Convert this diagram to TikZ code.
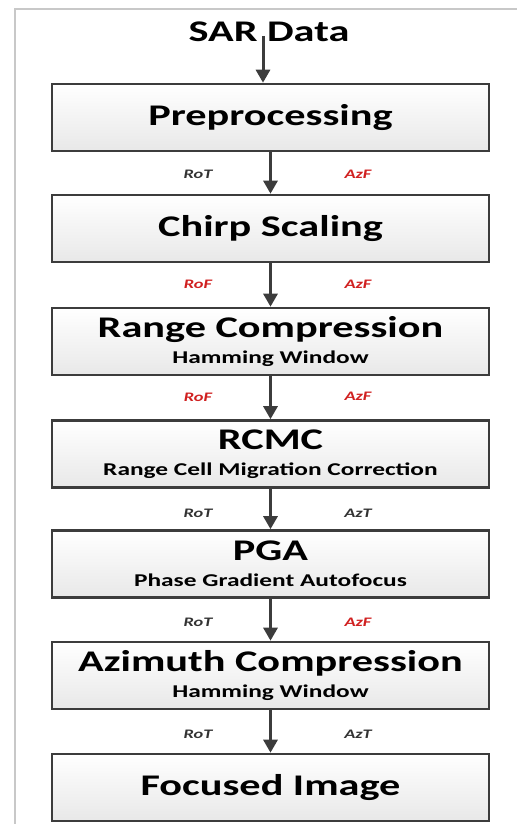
\documentclass[tikz,border=0pt]{standalone}
\usepackage{fontspec}
\usetikzlibrary{arrows.meta}
\newfontfamily\flowfont{Carlito}[FakeStretch=1.41]
\definecolor{edgegray}{HTML}{3C3C3C}
\definecolor{framegray}{HTML}{C8C8C8}
\definecolor{domred}{HTML}{D02020}
\newcommand{\titlefont}{\flowfont\bfseries\fontsize{30}{32}\selectfont}
\newcommand{\subfont}{\flowfont\bfseries\fontsize{18}{20}\selectfont}
\newcommand{\tagfont}{\flowfont\bfseries\itshape\fontsize{13}{14}\selectfont}
\begin{document}
\begin{tikzpicture}[x=1pt,y=-1pt,
  stagebox/.style={draw=edgegray, line width=2.6pt, top color=white, bottom color=black!9,
    minimum width=437pt, minimum height=67pt, inner sep=0pt, align=center, text=black,
    font=\titlefont},
  flowarrow/.style={draw=edgegray, line width=3pt, -{Triangle[width=14pt,length=13pt]}},
  blacktag/.style={font=\tagfont, text=black!80},
  redtag/.style={font=\tagfont, text=domred}]
\useasboundingbox (0,0) rectangle (517,824);
% outer frame
\draw[framegray, line width=2pt] (15,824) -- (15,9) -- (517,9);

% input
\node[font=\titlefont, inner sep=1pt] (sar) at (269,32) {SAR Data};
\coordinate (sartail) at (263,36);

% processing stages
\node[stagebox] (pre)   at (270.5,117.5) {Preprocessing};
\node[stagebox] (chirp) at (270.5,228.5) {Chirp Scaling};
\node[stagebox] (rc)    at (270.5,341.5) {Range Compression\\[-6pt]{\subfont Hamming Window}};
\node[stagebox] (rcmc)  at (270.5,454)   {RCMC\\[-6pt]{\subfont Range Cell Migration Correction}};
\node[stagebox] (pga)   at (270.5,564)   {PGA\\[-6pt]{\subfont Phase Gradient Autofocus}};
\node[stagebox] (az)    at (270.5,675.5) {Azimuth Compression\\[-6pt]{\subfont Hamming Window}};
\node[stagebox] (foc)   at (270.5,787.5) {Focused Image};

% connectors
\draw[flowarrow] (sartail) -- (sartail |- pre.north);
\draw[flowarrow] (pre) -- (chirp);
\draw[flowarrow] (chirp) -- (rc);
\draw[flowarrow] (rc) -- (rcmc);
\draw[flowarrow] (rcmc) -- (pga);
\draw[flowarrow] (pga) -- (az);
\draw[flowarrow] (az) -- (foc);

% range / azimuth domain tags
\node[blacktag] (r1) at (198,174) {RoT};
\node[redtag]   (a1) at (358,174) {AzF};
\node[redtag]   (r2) at (198,284) {RoF};
\node[redtag]   (a2) at (358,284) {AzF};
\node[redtag]   (r3) at (198,397) {RoF};
\node[redtag]   (a3) at (358,396) {AzF};
\node[blacktag] (r4) at (198,513) {RoT};
\node[blacktag] (a4) at (358,513) {AzT};
\node[blacktag] (r5) at (198,622) {RoT};
\node[redtag]   (a5) at (358,622) {AzF};
\node[blacktag] (r6) at (198,734) {RoT};
\node[blacktag] (a6) at (358,734) {AzT};
\end{tikzpicture}
\end{document}
